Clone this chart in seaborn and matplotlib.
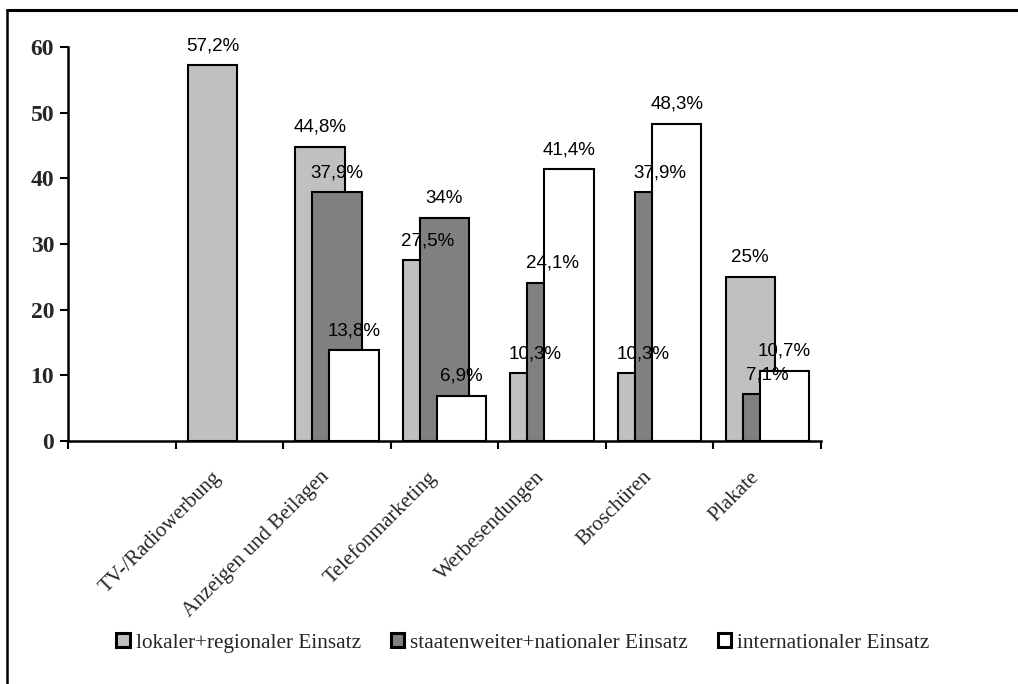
import numpy as np
import pandas as pd
import matplotlib
matplotlib.use("Agg")
import matplotlib.pyplot as plt
from matplotlib.patches import Patch
from matplotlib.lines import Line2D
from matplotlib.transforms import ScaledTranslation
import seaborn as sns

# --- data -------------------------------------------------------------
categories = ["TV-/Radiowerbung", "Anzeigen und Beilagen", "Telefonmarketing",
              "Werbesendungen", "Broschüren", "Plakate"]
series_names = ["lokaler+regionaler Einsatz",
                "staatenweiter+nationaler Einsatz",
                "internationaler Einsatz"]
lokal = [57.2, 44.8, 27.5, 10.3, 10.3, 25.0]
national = [None, 37.9, 34.0, 24.1, 37.9, 7.1]
international = [None, 13.8, 6.9, 41.4, 48.3, 10.7]
y_ticks = [0, 10, 20, 30, 40, 50, 60]

colors = ["#C0C0C0", "#808080", "#FFFFFF"]

rows = []
for name, vals in zip(series_names, [lokal, national, international]):
    for cat, v in zip(categories, vals):
        if v is not None:
            rows.append({"Kategorie": cat, "Serie": name, "Wert": v})
df = pd.DataFrame(rows)

# an empty leading slot on the category axis
order = [""] + categories

sns.set_theme(style="white")
plt.rcParams["font.family"] = ["Liberation Serif", "DejaVu Serif"]

fig = plt.figure(figsize=(10.18, 6.84), dpi=100)
ax = fig.add_axes([68 / 1018, 1 - 441 / 684, (821 - 68) / 1018, (441 - 47) / 684])

offset = 0.158     # shift between neighbouring series
bar_w = 0.457      # visible width of each bar (bars overlap)

sns.barplot(data=df, x="Kategorie", y="Wert", hue="Serie", order=order,
            hue_order=series_names, palette=colors, dodge=True,
            width=offset * 3, errorbar=None, legend=False,
            edgecolor="black", linewidth=1.5, saturation=1, ax=ax)

# widen the dodged bars so that they overlap like a clustered column chart
for c in ax.containers:
    for p in c.patches:
        cx = p.get_x() + p.get_width() / 2
        p.set_width(bar_w)
        p.set_x(cx - bar_w / 2)

def pct(v):
    s = f"{v:.1f}".rstrip("0").rstrip(".")
    return s.replace(".", ",") + "%"

for c in ax.containers:
    ax.bar_label(c, fmt=pct, padding=8, fontsize=13.5,
                 family=["Liberation Sans", "DejaVu Sans"], color="black",
                 clip_on=False, zorder=10)

ax.set_xlim(-0.5, len(order) - 0.5)
ax.set_ylim(0, 60)
ax.set_yticks(y_ticks)
ax.set_yticklabels([str(t) for t in y_ticks], fontsize=17, fontweight="bold")
ax.set_xlabel("")
ax.set_ylabel("")

# ticks between categories, labels at category centres
ax.set_xticks(np.arange(-0.5, len(order), 1.0))
ax.set_xticklabels([])
ax.set_xticks(np.arange(len(order)), minor=True)
ax.set_xticklabels(order, minor=True, rotation=45, ha="right", va="center",
                   rotation_mode="anchor", fontsize=15.2)
ax.tick_params(axis="x", which="major", direction="out", length=6, width=1.5,
               color="black", bottom=True)
ax.tick_params(axis="x", which="minor", length=0, pad=24)
ax.tick_params(axis="y", direction="out", length=6, width=1.5, color="black",
               left=True, pad=4)
shift = ScaledTranslation(-0.105, 0.0, fig.dpi_scale_trans)
for lbl in ax.get_xticklabels(minor=True):
    lbl.set_transform(lbl.get_transform() + shift)

for side in ["top", "right"]:
    ax.spines[side].set_visible(False)
for side in ["left", "bottom"]:
    ax.spines[side].set_color("black")
    ax.spines[side].set_linewidth(1.8)
ax.grid(False)

handles = [Patch(facecolor=col, edgecolor="black", linewidth=2.2) for col in colors]
fig.legend(handles, series_names, loc="center", ncol=3,
           bbox_to_anchor=(523 / 1018, 1 - 643 / 684), frameon=False,
           fontsize=15.3, handlelength=0.62, handleheight=0.62,
           handletextpad=0.3, columnspacing=1.4, borderaxespad=0)

# outer frame lines
fig.add_artist(Line2D([7 / 1018, 1], [1 - 10 / 684, 1 - 10 / 684],
                      color="black", linewidth=2.2, transform=fig.transFigure))
fig.add_artist(Line2D([7 / 1018, 7 / 1018], [0, 1 - 10 / 684],
                      color="black", linewidth=1.8, transform=fig.transFigure))

fig.savefig("out.png", dpi=100, facecolor="white")
